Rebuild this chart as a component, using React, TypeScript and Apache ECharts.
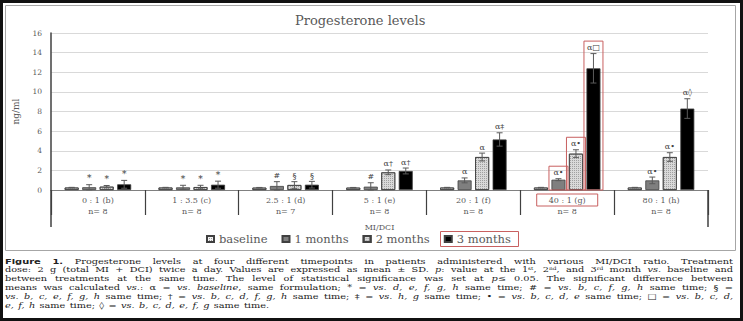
import React, { useEffect, useRef } from 'react';
import * as echarts from 'echarts';

const categories = ['0 : 1 (b)', '1 : 3.5 (c)', '2.5 : 1 (d)', '5 : 1 (e)', '20 : 1 (f)', '40 : 1 (g)', '80 : 1 (h)'];
const sampleSizes = ['n= 8', 'n= 8', 'n= 7', 'n= 8', 'n= 8', 'n= 8', 'n= 8'];
const seriesNames = ['baseline', '1 months', '2 months', '3 months'];
const yTicks = { min: 0, max: 16, interval: 2 };

const baseline = [0.25, 0.25, 0.24, 0.24, 0.25, 0.25, 0.25];
const baselineSD = [0.02, 0.02, 0.02, 0.02, 0.02, 0.02, 0.02];
const month1 = [0.28, 0.27, 0.41, 0.34, 0.98, 1.05, 0.98];
const month1SD = [0.26, 0.21, 0.44, 0.4, 0.25, 0.1, 0.34];
const month2 = [0.34, 0.3, 0.51, 1.8, 3.36, 3.7, 3.36];
const month2SD = [0.12, 0.18, 0.34, 0.24, 0.4, 0.4, 0.44];
const month3 = [0.58, 0.54, 0.54, 1.94, 5.15, 12.4, 8.3];
const month3SD = [0.4, 0.36, 0.34, 0.3, 0.68, 1.5, 1.0];

const baselineMarks = ['', '', '', '', '', '', ''];
const month1Marks = ['*', '*', '#', '#', 'α', 'α•', 'α•'];
const month2Marks = ['*', '*', '§', 'α†', 'α', 'α•', 'α•'];
const month3Marks = ['*', '*', '§', 'α†', 'α‡', 'α□', 'α◊'];

const captionLines = [
  '{b|Figure 1.} Progesterone levels at four different timepoints in patients administered with various MI/DCI ratio. Treatment',
  'dose: 2 g (total MI + DCI) twice a day. Values are expressed as mean ± SD. {i|p}: value at the 1{sup|st}, 2{sup|nd}, and 3{sup|rd} month {i|vs.} baseline and',
  'between treatments at the same time. The level of statistical significance was set at {i|p}≤ 0.05. The significant difference between',
  'means was calculated {i|vs.}: α = {i|vs. baseline}, same formulation; * = {i|vs. d, e, f, g, h} same time; # = {i|vs. b, c, f, g, h} same time; § =',
  '{i|vs. b, c, e, f, g, h} same time; † = {i|vs. b, c, d, f, g, h} same time; ‡ = {i|vs. h, g} same time; • = {i|vs. b, c, d, e} same time; □ = {i|vs. b, c, d,}',
  '{i|e, f, h} same time; ◊ = {i|vs. b, c, d, e, f, g} same time.',
];

const SERIF = 'DejaVu Serif';
const BAR_W = 14;
const BAR_GAP = 3.5;
const GRAY_TEXT = '#595959';
const CAPTION_SCALE_X = 1.3;

type Run = { t: string; s: string };

const runStyles: Record<string, { size: number; family: string; style: string; weight: string; dy: number }> = {
  n: { size: 7.5, family: SERIF, style: 'normal', weight: 'normal', dy: 0 },
  i: { size: 7.5, family: SERIF, style: 'italic', weight: 'normal', dy: 0 },
  b: { size: 7.6, family: 'DejaVu Sans', style: 'normal', weight: 'bold', dy: 0 },
  sup: { size: 4.5, family: SERIF, style: 'normal', weight: 'normal', dy: -2 },
};

function parseLine(line: string): Run[][] {
  const runs: Run[] = [];
  const re = /\{(\w+)\|([^}]*)\}/g;
  let last = 0;
  let m: RegExpExecArray | null;
  while ((m = re.exec(line))) {
    if (m.index > last) runs.push({ t: line.slice(last, m.index), s: 'n' });
    runs.push({ t: m[2], s: m[1] });
    last = re.lastIndex;
  }
  if (last < line.length) runs.push({ t: line.slice(last), s: 'n' });
  const words: Run[][] = [[]];
  for (const r of runs) {
    const parts = r.t.split(' ');
    parts.forEach((p, k) => {
      if (k > 0) words.push([]);
      if (p) words[words.length - 1].push({ t: p, s: r.s });
    });
  }
  return words.filter((w) => w.length);
}

function buildCaption(left: number, right: number, y0: number, step: number) {
  const canvas = document.createElement('canvas');
  const ctx = canvas.getContext('2d')!;
  const fontOf = (s: string) => {
    const st = runStyles[s];
    return `${st.style} ${st.weight} ${st.size}px "${st.family}"`;
  };
  const measure = (r: Run) => {
    ctx.font = fontOf(r.s);
    return ctx.measureText(r.t).width;
  };
  ctx.font = fontOf('n');
  const spaceW = ctx.measureText(' ').width;
  const localWidth = (right - left) / CAPTION_SCALE_X;
  const children: any[] = [];
  captionLines.forEach((line, li) => {
    const words = parseLine(line);
    const widths = words.map((w) => w.reduce((a, r) => a + measure(r), 0));
    const total = widths.reduce((a, b) => a + b, 0);
    const isLast = li === captionLines.length - 1;
    const gap = isLast || words.length < 2 ? spaceW * 1.4 : (localWidth - total) / (words.length - 1);
    let x = 0;
    const y = y0 + li * step;
    words.forEach((w, wi) => {
      let xx = x;
      w.forEach((r) => {
        const st = runStyles[r.s];
        children.push({
          type: 'text',
          silent: true,
          x: xx,
          y: y + st.dy,
          style: {
            text: r.t,
            fontSize: st.size,
            fontFamily: st.family,
            fontStyle: st.style,
            fontWeight: st.weight,
            fill: '#222222',
            align: 'left',
            verticalAlign: 'middle',
            textAlign: 'left',
            textVerticalAlign: 'middle',
          },
        });
        xx += measure(r);
      });
      x += widths[wi] + gap;
    });
  });
  return { id: 'caption', type: 'group', x: left, y: 0, scaleX: CAPTION_SCALE_X, children };
}

function barOffset(idx: number) {
  const total = 4 * BAR_W + 3 * BAR_GAP;
  return -total / 2 + idx * (BAR_W + BAR_GAP) + BAR_W / 2;
}

function errorSeries(idx: number, values: number[], sds: number[], marks: string[]) {
  return {
    type: 'custom',
    name: seriesNames[idx] + ' SD',
    data: values.map((v, i) => [i, v, sds[i]]),
    encode: { x: 0, y: 1 },
    z: 5,
    silent: true,
    renderItem: (params: any, api: any) => {
      const ci = api.value(0);
      const v = api.value(1);
      const sd = api.value(2);
      const cx = api.coord([ci, v])[0];
      const x = cx + barOffset(idx);
      const yTop = api.coord([ci, v + sd])[1];
      const yBot = api.coord([ci, Math.max(0, v - sd)])[1];
      const cap = 3;
      const ls = { stroke: '#5a5a5a', lineWidth: 1 };
      const children: any[] = [
        { type: 'line', shape: { x1: x, y1: yTop, x2: x, y2: yBot }, style: ls },
        { type: 'line', shape: { x1: x - cap, y1: yTop, x2: x + cap, y2: yTop }, style: ls },
        { type: 'line', shape: { x1: x - cap, y1: yBot, x2: x + cap, y2: yBot }, style: ls },
      ];
      const mk = marks[params.dataIndex];
      if (mk) {
        children.push({
          type: 'text',
          x,
          y: yTop - 2,
          style: {
            text: mk,
            fontSize: mk === '*' ? 9 : 8,
            fontFamily: SERIF,
            fill: '#404040',
            align: 'center',
            verticalAlign: 'bottom',
            textAlign: 'center',
            textVerticalAlign: 'bottom',
          },
        });
      }
      return { type: 'group', children };
    },
  };
}

export default function App() {
  const ref = useRef<HTMLDivElement>(null);
  useEffect(() => {
    document.body.style.margin = '0';
    if (!ref.current) return;
    const chart = echarts.init(ref.current, undefined, { renderer: 'svg' });
    const barBorder = { borderColor: '#404040', borderWidth: 0.8 };
    const barStyles = [
      { color: '#f2f2f2', ...barBorder, decal: { symbol: 'rect', symbolSize: 1, color: '#9a9a9a', dashArrayX: [1, 1], dashArrayY: [1, 1] } },
      { color: '#7f7f7f', ...barBorder },
      { color: '#d9d9d9', ...barBorder, decal: { symbol: 'rect', symbolSize: 1, color: '#a0a0a0', dashArrayX: [1, 1], dashArrayY: [1, 1] } },
      { color: '#000000', ...barBorder },
    ];
    const values = [baseline, month1, month2, month3];
    const sds = [baselineSD, month1SD, month2SD, month3SD];
    const marks = [baselineMarks, month1Marks, month2Marks, month3Marks];

    const staticGraphics: any[] = [
      { id: 'frame', type: 'rect', silent: true, shape: { x: 1.5, y: 1.5, width: 740, height: 318 }, style: { fill: 'none', stroke: '#111111', lineWidth: 3 }, z: 100 },
      { id: 'box', type: 'rect', silent: true, shape: { x: 5.5, y: 5.5, width: 730, height: 245 }, style: { fill: 'none', stroke: '#a6a6a6', lineWidth: 1 } },
      { id: 'legendBox', type: 'rect', silent: true, shape: { x: 440.5, y: 231.5, width: 78, height: 15 }, style: { fill: 'none', stroke: '#c86060', lineWidth: 1 } },
      buildCaption(5, 733, 261, 8.85),
    ];

    chart.setOption({
      animation: false,
      title: {
        text: 'Progesterone levels',
        left: 290,
        top: 9,
        textStyle: { fontFamily: SERIF, fontSize: 13, fontWeight: 'normal', color: GRAY_TEXT },
      },
      legend: {
        data: seriesNames,
        left: 206,
        top: 233,
        icon: 'rect',
        itemWidth: 7,
        itemHeight: 6,
        itemGap: 14,
        padding: 0,
        textStyle: { fontFamily: SERIF, fontSize: 11.5, color: GRAY_TEXT },
      },
      grid: { left: 51, right: 35, top: 33, bottom: 131 },
      xAxis: [
        {
          type: 'category',
          data: categories,
          axisLine: { lineStyle: { color: '#808080', width: 1 } },
          axisTick: { show: true, interval: 0, length: 25, lineStyle: { color: '#404040', width: 1.2 } },
          axisLabel: {
            interval: 0,
            margin: 5,
            fontFamily: SERIF,
            fontSize: 8,
            lineHeight: 11,
            color: GRAY_TEXT,
            formatter: (v: string, i: number) => v + '\n' + sampleSizes[i],
          },
        },
        {
          type: 'category',
          data: [''],
          position: 'bottom',
          axisLine: { show: false },
          axisTick: { show: true, length: 37, lineStyle: { color: '#404040', width: 1.5 } },
          axisLabel: { show: false },
          name: 'MI/DCI',
          nameLocation: 'middle',
          nameGap: 33,
          nameTextStyle: { fontFamily: SERIF, fontSize: 8, color: GRAY_TEXT },
        },
      ],
      yAxis: {
        type: 'value',
        min: yTicks.min,
        max: yTicks.max,
        interval: yTicks.interval,
        name: 'ng/ml',
        nameLocation: 'middle',
        nameGap: 31,
        nameTextStyle: { fontFamily: SERIF, fontSize: 9, color: GRAY_TEXT },
        axisLine: { show: true, lineStyle: { color: '#404040', width: 1.5 } },
        axisTick: { show: false },
        splitLine: { lineStyle: { color: '#d9d9d9', width: 1 } },
        axisLabel: { margin: 9, fontFamily: SERIF, fontSize: 7.5, color: GRAY_TEXT },
      },
      series: [
        ...values.map((vals, k) => ({
          type: 'bar',
          name: seriesNames[k],
          data: vals,
          barWidth: BAR_W,
          barGap: (BAR_GAP / BAR_W) * 100 + '%',
          itemStyle: barStyles[k],
          silent: true,
        })),
        ...values.map((vals, k) => errorSeries(k, vals, sds[k], marks[k])),
      ],
      graphic: staticGraphics,
    });

    // Red highlight boxes around group (g), computed from the chart's own scales
    const gi = categories.indexOf('40 : 1 (g)');
    const zeroY = chart.convertToPixel({ xAxisIndex: 0, yAxisIndex: 0 }, [gi, 0]) as number[];
    const hl: any[] = [];
    [1, 2, 3].forEach((k) => {
      const top = values[k][gi] + sds[k][gi];
      const p = chart.convertToPixel({ xAxisIndex: 0, yAxisIndex: 0 }, [gi, top]) as number[];
      const x = zeroY[0] + barOffset(k) - BAR_W / 2 - 2.5;
      hl.push({
        id: 'hl' + k,
        type: 'rect',
        silent: true,
        z: 10,
        shape: { x, y: p[1] - 12.5, width: BAR_W + 5, height: zeroY[1] - (p[1] - 12.5) },
        style: { fill: 'none', stroke: '#c86060', lineWidth: 1 },
      });
    });
    hl.push({
      id: 'hlLabel',
      type: 'rect',
      silent: true,
      shape: { x: zeroY[0] - 30.5, y: zeroY[1] + 4, width: 61, height: 12 },
      style: { fill: 'none', stroke: '#c86060', lineWidth: 1 },
    });
    chart.setOption({ graphic: [...staticGraphics, ...hl] });

    return () => chart.dispose();
  }, []);
  return <div ref={ref} style={{ width: 743, height: 321, position: 'absolute', left: 0, top: 0, background: '#fff' }} />;
}
